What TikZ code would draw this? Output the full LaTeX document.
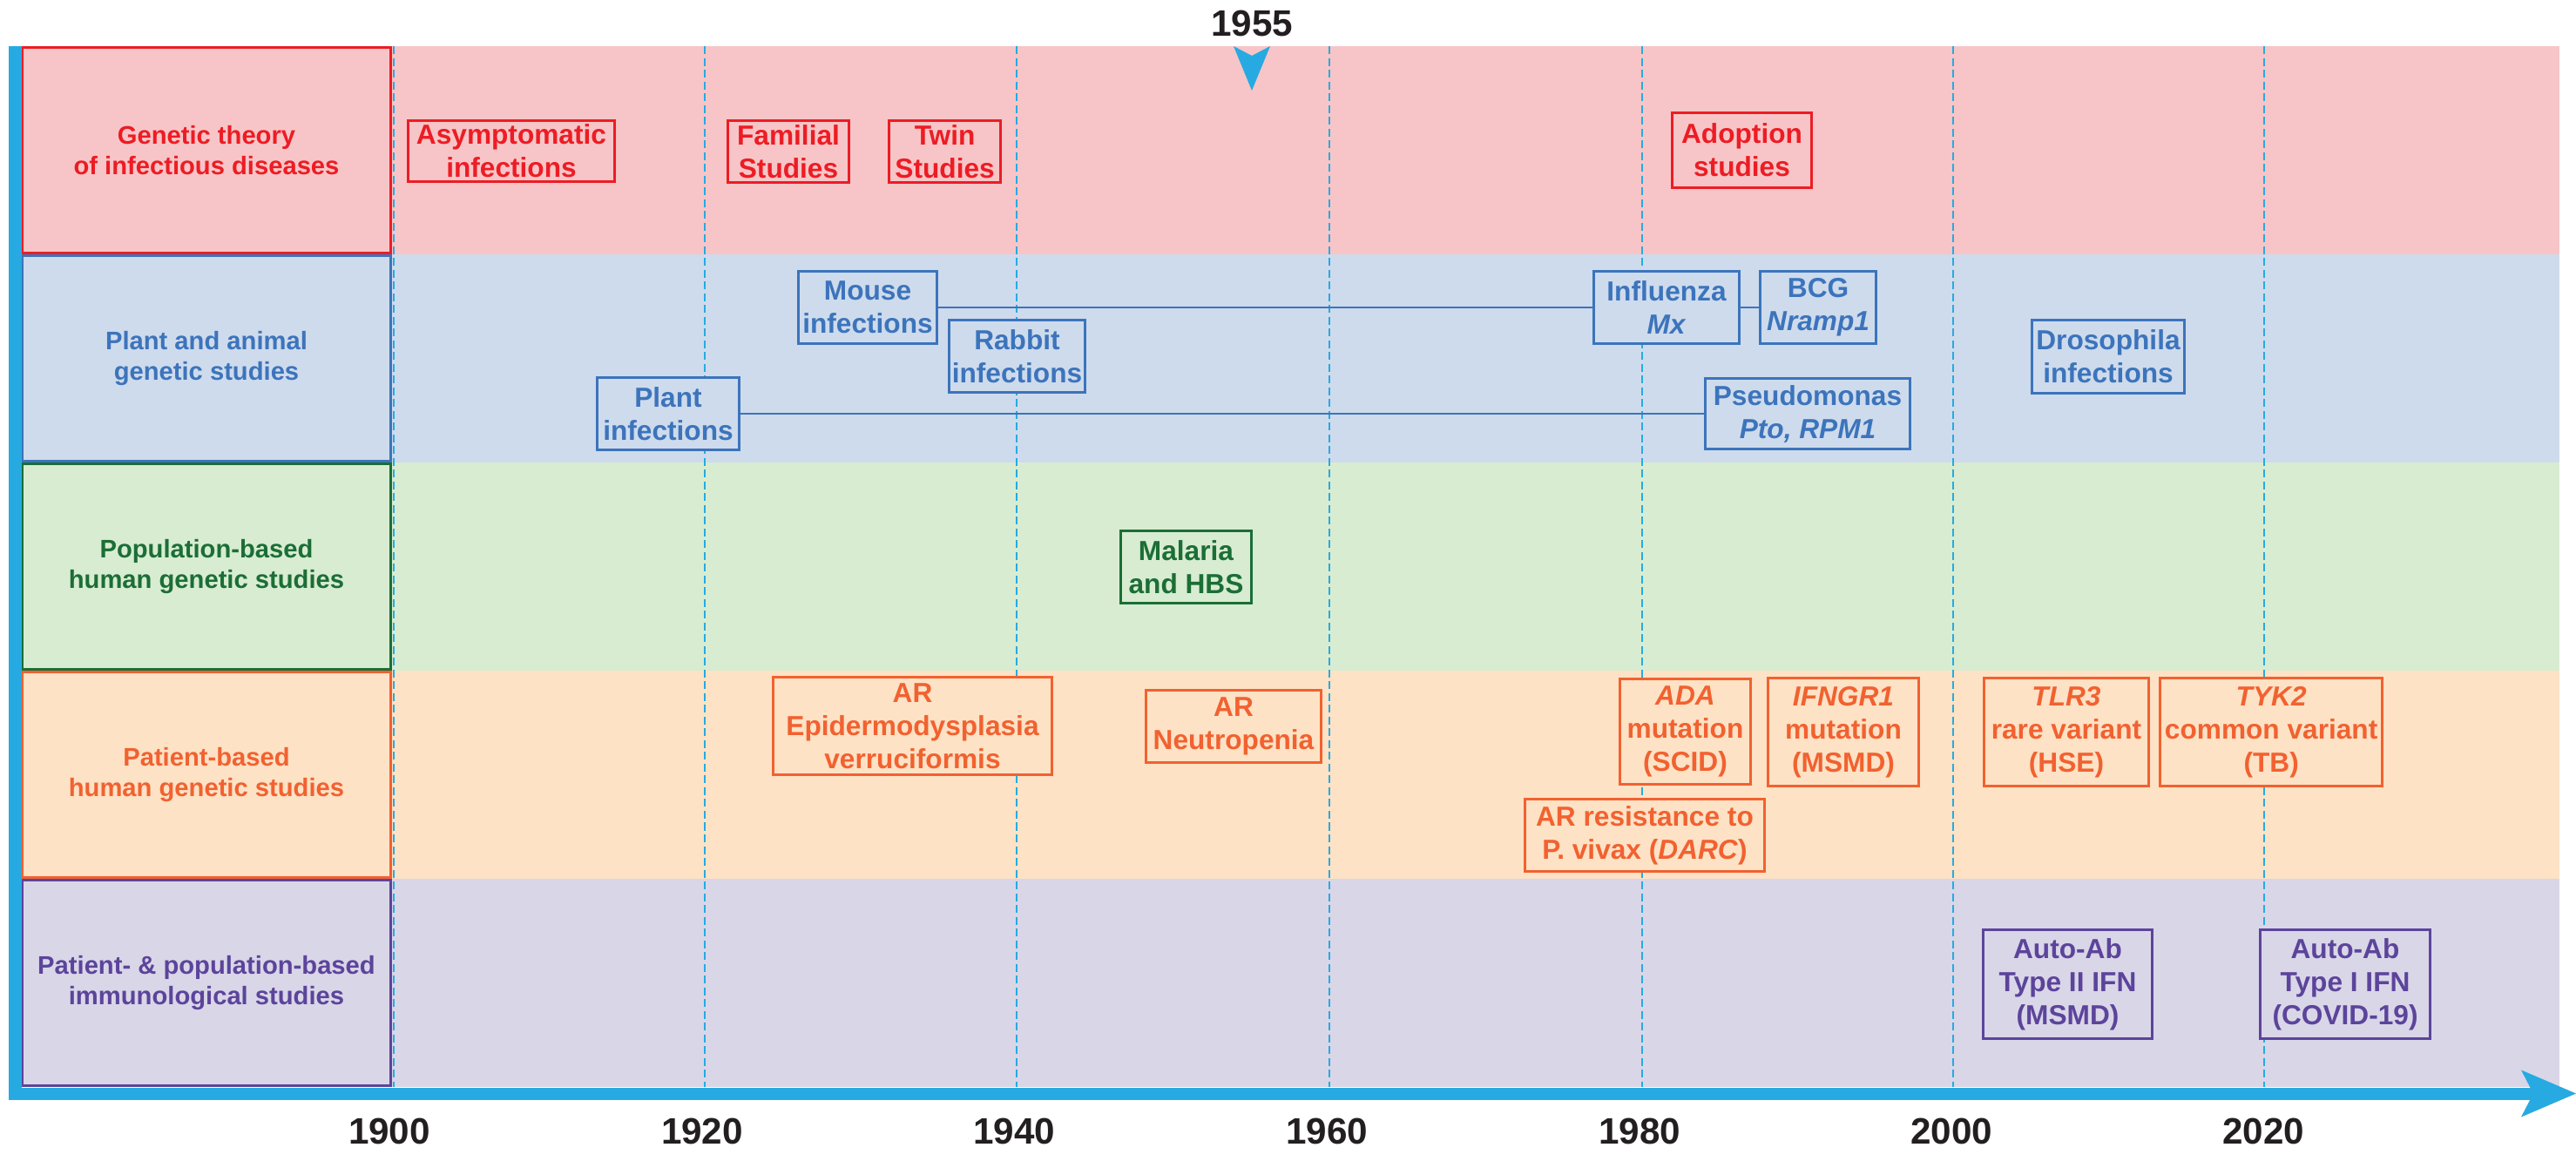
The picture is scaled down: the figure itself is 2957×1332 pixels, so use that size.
\documentclass[tikz,border=0pt]{standalone}
\usepackage{fontspec}
\setmainfont{Liberation Sans}
\usetikzlibrary{arrows.meta, positioning}

\definecolor{gred}{HTML}{ED1C24}
\definecolor{gredbg}{HTML}{F7C5C7}
\definecolor{gblue}{HTML}{3C74BC}
\definecolor{gbluebg}{HTML}{CEDBEC}
\definecolor{ggreen}{HTML}{1B6E36}
\definecolor{ggreenbg}{HTML}{D8ECD1}
\definecolor{gorange}{HTML}{F26130}
\definecolor{gorangebg}{HTML}{FDE2C5}
\definecolor{gpurple}{HTML}{5C449B}
\definecolor{gpurplebg}{HTML}{D9D6E8}
\definecolor{axisblue}{HTML}{27AAE1}
\definecolor{yeartext}{HTML}{231F20}

\begin{document}
\begin{tikzpicture}[
		x=0.01cm, y=-0.01cm,
		rowlabel/.style={draw=#1, text=#1, fill=#1bg, line width=0.028cm, minimum width=4.235cm, minimum height=2.36cm, align=center, font=\fontsize{8.3}{10}\selectfont\bfseries},
		event/.style={draw=#1, text=#1, fill=#1bg, line width=0.03cm, inner sep=0pt, align=center, font=\fontsize{9}{10.8}\selectfont\bfseries},
		link/.style={gblue, line width=0.015cm},
		gridline/.style={axisblue, line width=0.02cm, dash pattern=on 0.09cm off 0.045cm},
		axis/.style={axisblue, line width=0.14cm, line join=miter, -{Stealth[length=0.63cm, width=0.54cm, inset=0.14cm, line width=0pt]}},
		year/.style={text=yeartext, font=\fontsize{12}{14}\selectfont\bfseries, inner sep=0pt}
		]
		\useasboundingbox (0,0) rectangle (2957,1332);

		% Bands
		\fill[gredbg] (24,53) rectangle (2938,292);
		\fill[gbluebg] (24,292) rectangle (2938,531);
		\fill[ggreenbg] (24,531) rectangle (2938,770);
		\fill[gorangebg] (24,770) rectangle (2938,1009);
		\fill[gpurplebg] (24,1009) rectangle (2938,1248);

		% Decades
		\draw[gridline] (452,53) -- (452,1248);
		\draw[gridline] (809,53) -- (809,1248);
		\draw[gridline] (1167,53) -- (1167,1248);
		\draw[gridline] (1526,53) -- (1526,1248);
		\draw[gridline] (1885,53) -- (1885,1248);
		\draw[gridline] (2242,53) -- (2242,1248);
		\draw[gridline] (2599,53) -- (2599,1248);

		% Row labels
		\node[rowlabel=gred] (rowgen) at (237,172.5) {Genetic theory\\of infectious diseases};
		\node[rowlabel=gblue] (rowplant) at (237,411.5) {Plant and animal\\genetic studies};
		\node[rowlabel=ggreen] (rowpop) at (237,650.5) {Population-based\\human genetic studies};
		\node[rowlabel=gorange] (rowpat) at (237,889.5) {Patient-based\\human genetic studies};
		\node[rowlabel=gpurple] (rowimm) at (237,1128.5) {Patient- \& population-based\\immunological studies};

		% Nodes
		\node[event=gred, minimum width=2.37cm, minimum height=0.70cm] (asymp) at (587,173.5) {Asymptomatic\\infections};
		\node[event=gred, minimum width=1.39cm, minimum height=0.71cm] (familial) at (905,174) {Familial\\Studies};
		\node[event=gred, minimum width=1.28cm, minimum height=0.71cm] (twin) [right=0.43cm of familial] {Twin\\Studies};
		\node[event=gred, minimum width=1.60cm, minimum height=0.86cm] (adoption) at (1999.5,172.5) {Adoption\\studies};

		\node[event=gblue, minimum width=1.59cm, minimum height=0.83cm] (mouse) at (996,353) {Mouse\\infections};
		\node[event=gblue, minimum width=1.56cm, minimum height=0.83cm] (rabbit) at (1167.5,409) {Rabbit\\infections};
		\node[event=gblue, minimum width=1.63cm, minimum height=0.83cm] (plant) at (767,475) {Plant\\infections};
		\node[event=gblue, minimum width=1.67cm, minimum height=0.83cm] (influenza) at (1913,353) {Influenza\\\textit{Mx}};
		\node[event=gblue, minimum width=1.33cm, minimum height=0.83cm] (bcg) [right=0.21cm of influenza] {BCG\\\textit{Nramp1}};
		\node[event=gblue, minimum width=2.35cm, minimum height=0.81cm] (pseudomonas) at (2075,475) {Pseudomonas\\\textit{Pto, RPM1}};
		\node[event=gblue, minimum width=1.75cm, minimum height=0.84cm] (drosophila) at (2420,409.5) {Drosophila\\infections};

		\node[event=ggreen, minimum width=1.50cm, minimum height=0.83cm] (malaria) at (1361.5,651) {Malaria\\and HBS};

		\node[event=gorange, minimum width=3.20cm, minimum height=1.12cm] (arepi) at (1047.5,833.5) {AR\\Epidermodysplasia\\verruciformis};
		\node[event=gorange, minimum width=2.01cm, minimum height=0.83cm] (arneutro) at (1416,834) {AR\\Neutropenia};
		\node[event=gorange, minimum width=1.50cm, minimum height=1.21cm] (ada) at (1934.5,840) {\textit{ADA}\\mutation\\(SCID)};
		\node[event=gorange, minimum width=2.75cm, minimum height=0.83cm] (arres) at (1888,959) {AR resistance to\\P. vivax (\textit{DARC})};
		\node[event=gorange, minimum width=1.73cm, minimum height=1.24cm] (ifngr) at (2116,840.5) {\textit{IFNGR1}\\mutation\\(MSMD)};
		\node[event=gorange, minimum width=1.89cm, minimum height=1.24cm] (tlr) at (2372,840.5) {\textit{TLR3}\\rare variant\\(HSE)};
		\node[event=gorange, minimum width=2.55cm, minimum height=1.24cm] (tyk) [right=0.10cm of tlr] {\textit{TYK2}\\common variant\\(TB)};

		\node[event=gpurple, minimum width=1.94cm, minimum height=1.25cm] (autoabii) at (2373.5,1130) {Auto-Ab\\Type II IFN\\(MSMD)};
		\node[event=gpurple, minimum width=1.95cm, minimum height=1.25cm] (autoabi) at (2692,1130) {Auto-Ab\\Type I IFN\\(COVID-19)};

		% Links
		\draw[link] (mouse) -- (influenza);
		\draw[link] (influenza) -- (bcg);
		\draw[link] (plant) -- (pseudomonas);

		% Axis
		\draw[axis] (17.5,53) -- (17.5,1255.5) -- (2957,1255.5);
		\fill[axisblue] (1416,53) -- (1437,64) -- (1458,53) -- (1437,104) -- cycle;
		\node[year] (y1955) at (1437,27) {1955};

		\node[year] (y1900) at (447,1299) {1900};
		\node[year] (y1920) at (806,1299) {1920};
		\node[year] (y1940) at (1164,1299) {1940};
		\node[year] (y1960) at (1523,1299) {1960};
		\node[year] (y1980) at (1882,1299) {1980};
		\node[year] (y2000) at (2240,1299) {2000};
		\node[year] (y2020) at (2598,1299) {2020};

	\end{tikzpicture}
\end{document}
